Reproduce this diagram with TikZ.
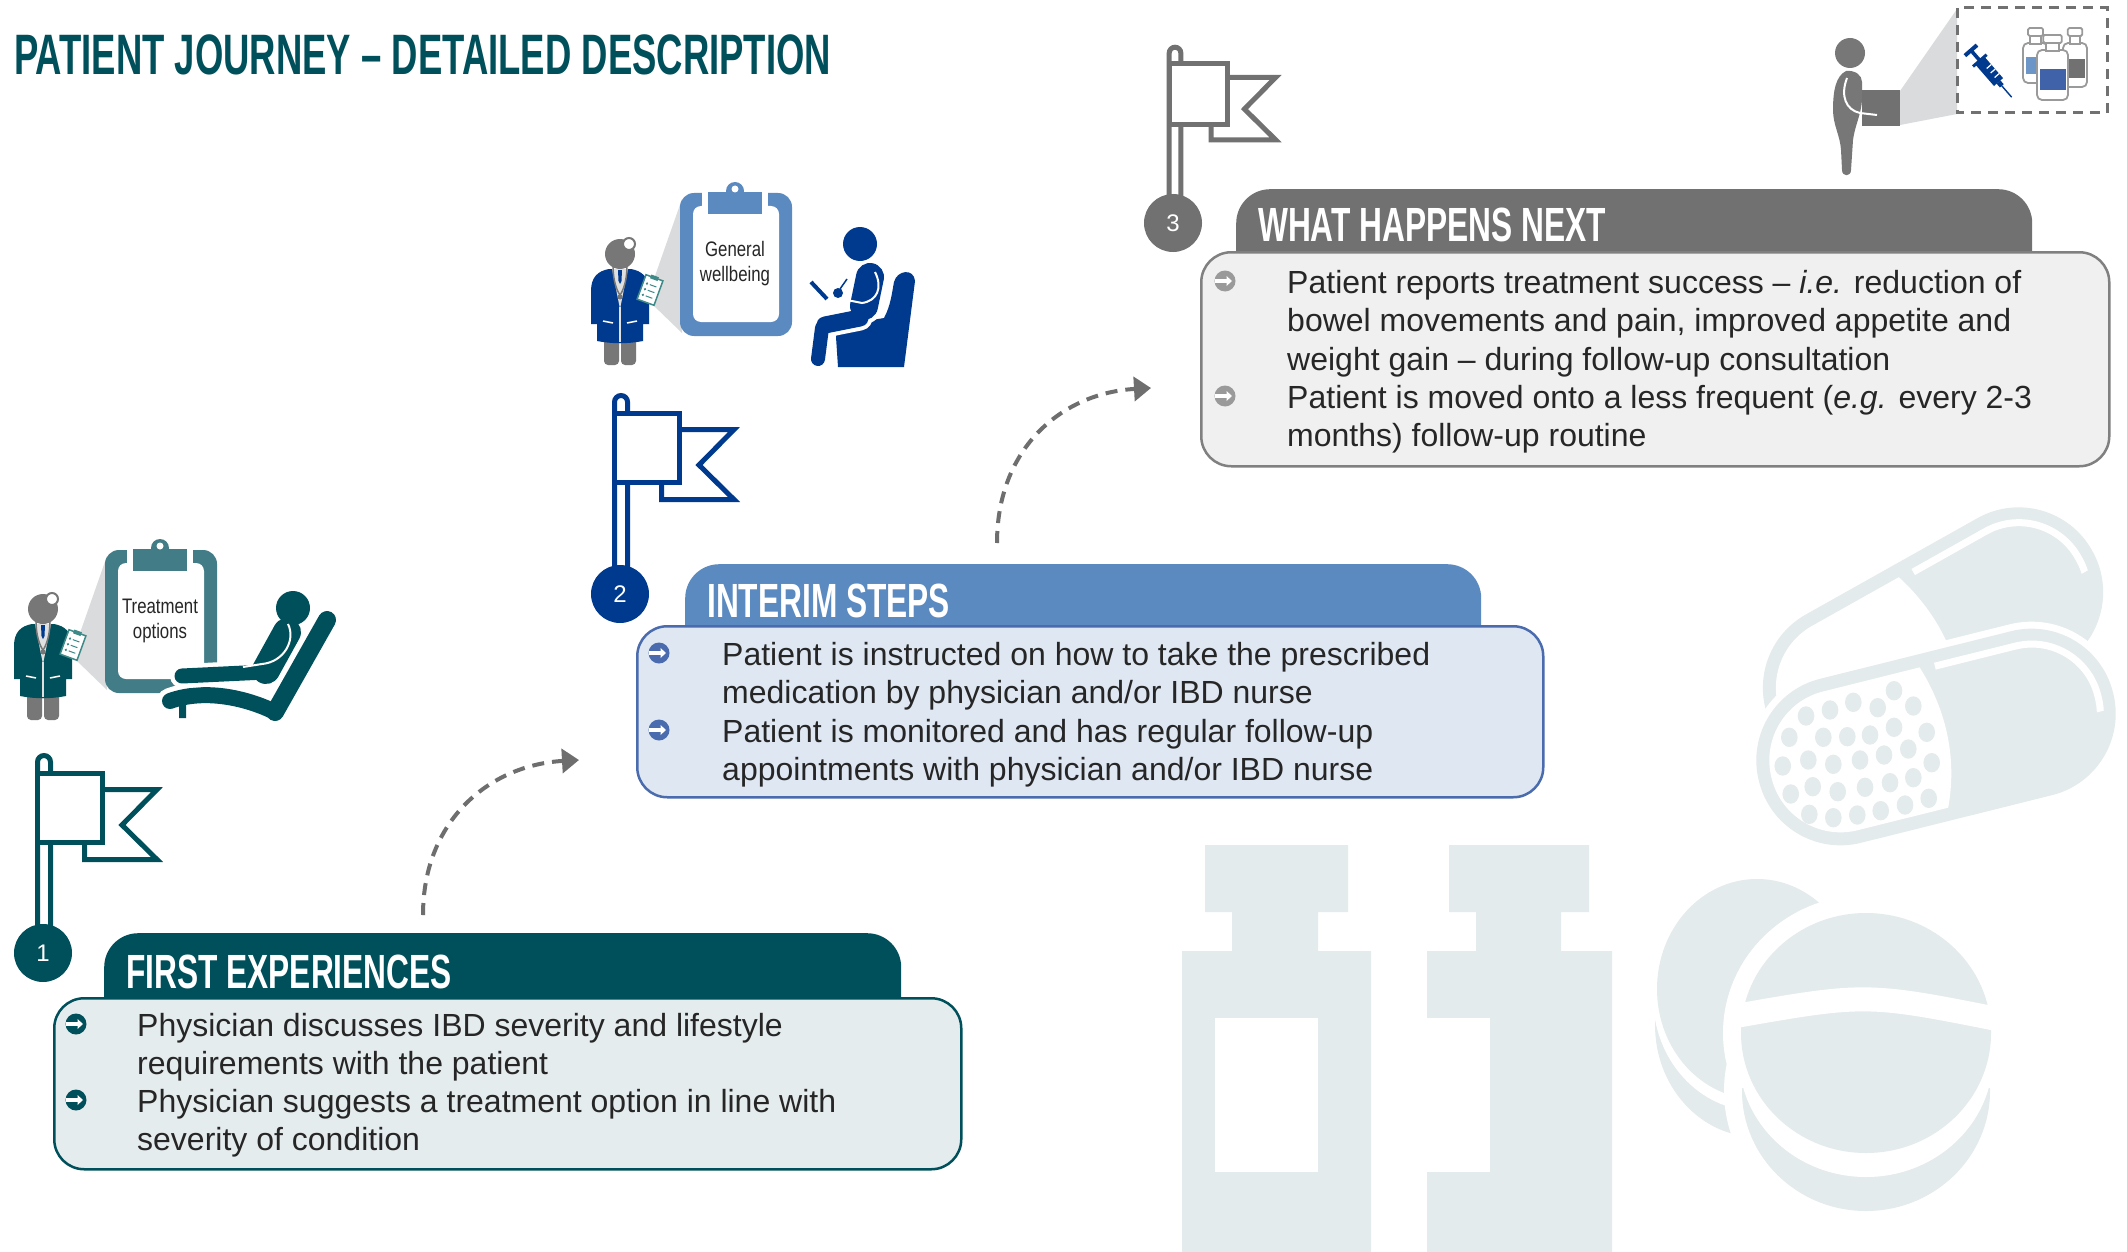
\documentclass[tikz,border=0pt]{standalone}
\usepackage{fontspec}
\setmainfont{Liberation Sans}
\newfontfamily\titlefont[FakeStretch=0.64]{Liberation Sans}
\newfontfamily\headfont[FakeStretch=0.66]{Liberation Sans}
\newfontfamily\narrowfont[FakeStretch=0.8]{Liberation Sans}
\usetikzlibrary{arrows.meta}

\definecolor{tealdark}{HTML}{00505B}
\definecolor{tealmid}{HTML}{427D87}
\definecolor{tealbox}{HTML}{E5ECEE}
\definecolor{cliphand}{HTML}{3E8A88}
\definecolor{navy}{HTML}{003A8F}
\definecolor{bluemid}{HTML}{5B8AC1}
\definecolor{blueline}{HTML}{4A6CAE}
\definecolor{bluebox}{HTML}{DEE7F2}
\definecolor{greydark}{HTML}{717171}
\definecolor{greyline}{HTML}{808080}
\definecolor{greybox}{HTML}{F0F0F0}
\definecolor{greybullet}{HTML}{9A9A9A}
\definecolor{beam}{HTML}{DADBDC}
\definecolor{ghost}{HTML}{E4EBED}
\definecolor{bodytext}{HTML}{262626}
\definecolor{arrowgrey}{HTML}{6E6E6E}
\definecolor{figgrey}{HTML}{777777}
\definecolor{vialblue}{HTML}{3F62A8}
\definecolor{viallight}{HTML}{6C95C8}

\tikzset{
  bodyline/.style={anchor=base west, inner sep=0pt, text=bodytext,
    font=\fontsize{32}{38}\selectfont},
  % round bullet with a white arrow running into it from the left
  bulletmark/.style={circle, minimum size=21pt, inner sep=0pt, fill=#1,
    path picture={
      \fill[white] ([yshift=2.2pt]path picture bounding box.west) rectangle
                   ([xshift=2pt,yshift=-2.2pt]path picture bounding box.center);
      \fill[white] ([xshift=1.5pt,yshift=5pt]path picture bounding box.center) --
                   ([xshift=7pt]path picture bounding box.center) --
                   ([xshift=1.5pt,yshift=-5pt]path picture bounding box.center) -- cycle;}},
  headtext/.style={anchor=base west, inner sep=0pt, text=white,
    font=\headfont\bfseries\fontsize{48}{48}\selectfont},
  headtab/.style={rectangle, rounded corners=34pt, inner sep=0pt, anchor=north west},
  bodybox/.style={rectangle, rounded corners=30pt, line width=2.5pt, inner sep=0pt, anchor=north west},
  stepnum/.style={circle, minimum size=58pt, inner sep=0pt, text=white,
    font=\fontsize{24}{24}\selectfont},
  cliptext/.style={align=center, inner sep=0pt, text=bodytext,
    font=\narrowfont\fontsize{21}{25}\selectfont},
  flagline/.style={draw=#1, fill=white, line width=5pt},
  journeyarrow/.style={draw=arrowgrey, line width=4pt, dash pattern=on 12pt off 8pt,
    -{Triangle[length=17pt,width=24pt]}},
}

% flag on a pole: origin of the pole top-left, colour, pole length, scale
\newcommand\flagmark[4]{%
  \begin{scope}[shift={#1}, scale=#4]
    \path[flagline=#2] (2.5,#3) -- (2.5,9) arc[start angle=180, end angle=360, radius=6.5] -- (15.5,#3);
    \path[flagline=#2] (49.5,36.5) -- (122,36.5) -- (87,72) -- (122,106.5) -- (49.5,106.5) -- cycle;
    \path[flagline=#2] (2.5,20.5) rectangle (67.5,89.5);
  \end{scope}}

% physician with a small clipboard in hand
\newcommand\doctorfig[1]{%
  \fill[figgrey, rounded corners=4] (27,684) rectangle (42,720);
  \fill[figgrey, rounded corners=4] (44,684) rectangle (59,720);
  \fill[#1] (20,696) -- (20,679) -- (14,679) -- (14,646)
     .. controls (14,632) and (21,626) .. (32,624) -- (54,624)
     .. controls (65,626) and (72,632) .. (72,646) -- (72,679) -- (66,679) -- (66,696)
     .. controls (50,699) and (36,699) .. cycle;
  \fill[white!88!black] (35,624) -- (43,664) -- (51,624) -- cycle;
  \draw[white!88!black, line width=1.5pt] (43,662) -- (43,697);
  \fill[navy] (41,625) -- (45,625) -- (44.5,636) -- (43,639) -- (41.5,636) -- cycle;
  \draw[white, line width=1.5pt] (26,676) -- (36,678) (50,678) -- (60,676);
  \draw[figgrey, line width=1.5pt] (36,621) .. controls (36,636) and (40,646) .. (43,650);
  \draw[figgrey, line width=1.5pt] (50,621) .. controls (50,636) and (46,646) .. (43,650);
  \fill[figgrey] (43,652) circle (2.5);
  \fill[figgrey] (43,609) circle (15);
  \draw[figgrey, line width=2pt, fill=white] (52,599) circle (6);
  \begin{scope}[shift={(73,645)}, rotate=-20]
    \draw[draw=cliphand, fill=white, line width=1.5pt] (-9,-13) rectangle (9,13);
    \fill[cliphand] (-4,-15) rectangle (4,-11);
    \foreach \yy in {-5,1,7} {
      \fill[cliphand] (-5,\yy) circle (1.3);
      \draw[cliphand, line width=1pt] (-2,\yy) -- (5,\yy);
    }
  \end{scope}}

% large clipboard with its caption: colour, node name, caption
\newcommand\clipboardfig[3]{%
  \fill[beam] (80,633) -- (107,556) -- (107,690) -- (77,661) -- cycle;
  \fill[#1, rounded corners=14] (105,550) rectangle (217,693);
  \fill[white, rounded corners=8] (118,563) rectangle (204,679);
  \fill[white] (127,545) rectangle (193,566);
  \fill[#1] (133,549) rectangle (187,571);
  \fill[#1] (160,548) circle (9);
  \fill[white] (160,546) circle (3.5);
  \node[cliptext] (#2) at (160,621) {#3};}

\begin{document}
\begin{tikzpicture}[x=1pt, y=-1pt]
\useasboundingbox (0,0) rectangle (2127,1252);
\fill[white] (0,0) rectangle (2127,1252);

% ---------------- faint medicine silhouettes ----------------
\fill[ghost] (1205,845) rectangle (1348,912) (1232,911) rectangle (1318,952) (1182,951) rectangle (1371,1252);
\fill[white] (1215,1018) rectangle (1318,1172);
\fill[ghost] (1449,845) rectangle (1589,912) (1476,911) rectangle (1561,952) (1427,951) rectangle (1612,1252);
\fill[white] (1427,1018) rectangle (1490,1172);

% back tablet
\begin{scope}
  \clip (1600,1012) rectangle (1820,1220);
  \fill[ghost] (1757,1025) ellipse [x radius=102, y radius=112];
  \fill[white] (1757,997) ellipse [x radius=104, y radius=114];
\end{scope}
\fill[ghost] (1757,989) ellipse [x radius=100, y radius=110];
% front tablet with white halo
\fill[white] (1866,1033) ellipse [x radius=143, y radius=138];
\fill[white] (1866,1091) ellipse [x radius=142, y radius=138];
\begin{scope}
  \clip (1700,1088) rectangle (2050,1252);
  \fill[ghost] (1866,1091) ellipse [x radius=124, y radius=120];
  \fill[white] (1866,1057) ellipse [x radius=127, y radius=120];
\end{scope}
\fill[ghost] (1866,1033) ellipse [x radius=125, y radius=120];
\draw[white, line width=24pt] (1730,1017) .. controls (1866,993) .. (2002,1020);

% upper capsule
\begin{scope}[shift={(1933,640)}, rotate=29.3]
  \fill[ghost, rounded corners=84] (-182.5,-84.5) rectangle (182.5,84.5);
  \begin{scope}
    \clip (-200,-100) -- (-4,-100) -- (-4,-85) .. controls (18,-30) and (18,30) .. (-12,85) -- (-12,100) -- (-200,100) -- cycle;
    \fill[white, rounded corners=71] (-169.5,-71.5) rectangle (169.5,71.5);
  \end{scope}
  \begin{scope}
    \clip (16,-100) rectangle (200,15);
    \draw[white, line width=7pt, rounded corners=68] (-167,-69) rectangle (167,69);
  \end{scope}
\end{scope}
% lower capsule
\begin{scope}[shift={(1936,737)}, rotate=14]
  \fill[white, rounded corners=91] (-189.5,-91.5) rectangle (189.5,91.5);
  \fill[ghost, rounded corners=84] (-182.5,-84.5) rectangle (182.5,84.5);
  \begin{scope}
    \clip (-200,-100) -- (-4,-100) -- (-4,-85) .. controls (18,-30) and (18,30) .. (-12,85) -- (-12,100) -- (-200,100) -- cycle;
    \fill[white, rounded corners=71] (-169.5,-71.5) rectangle (169.5,71.5);
  \end{scope}
  \begin{scope}
    \clip (16,-100) rectangle (200,15);
    \draw[white, line width=7pt, rounded corners=68] (-167,-69) rectangle (167,69);
  \end{scope}
\end{scope}
\foreach \px/\py in {1894/690.7, 1913.3/706, 1877.7/707.7, 1853.3/702.3, 1830/710, 1806/716,
  1926.7/732.3, 1894/727.3, 1870/735, 1847.3/736.7, 1823.3/737.3, 1789.3/737.3,
  1908.3/749, 1884/755, 1860/760, 1833.3/764.3, 1808.3/760, 1782.7/766,
  1931.7/762.7, 1913.3/777.7, 1890/782.7, 1865/787.3, 1837.7/791.7, 1812.7/786.7, 1790.7/794,
  1928.7/798.3, 1905/805, 1880.7/810.7, 1857.3/815, 1833.3/817.7, 1809.3/814.3}
  \fill[ghost] (\px,\py) ellipse [x radius=8.3, y radius=9.7];

% ---------------- title ----------------
\node[anchor=base west, inner sep=0pt, text=tealdark,
  font=\titlefont\bfseries\fontsize{57}{57}\selectfont] (title) at (14,75)
  {PATIENT JOURNEY – DETAILED DESCRIPTION};

% ---------------- step 1: first experiences ----------------
\node[headtab, fill=tealdark, minimum width=797pt, minimum height=107pt] (fe-tab) at (104,933) {};
\node[bodybox, draw=tealdark, fill=tealbox, minimum width=907pt, minimum height=171pt] (fe-body) at (53,997) {};
\node[headtext] (fe-head) at (126,988) {FIRST EXPERIENCES};
\node[bulletmark=tealdark] (fe-b1) at (76,1024) {};
\node[bulletmark=tealdark] (fe-b2) at (76,1100) {};
\node[bodyline] (fe-l1) at (137,1036) {Physician discusses IBD severity and lifestyle};
\node[bodyline] (fe-l2) at (137,1074) {requirements with the patient};
\node[bodyline] (fe-l3) at (137,1112) {Physician suggests a treatment option in line with};
\node[bodyline] (fe-l4) at (137,1150) {severity of condition};

% ---------------- step 2: interim steps ----------------
\node[headtab, fill=bluemid, minimum width=796pt, minimum height=100pt] (is-tab) at (685,564) {};
\node[bodybox, draw=blueline, fill=bluebox, minimum width=906pt, minimum height=171pt] (is-body) at (636,625) {};
\node[headtext] (is-head) at (707,617) {INTERIM STEPS};
\node[bulletmark=blueline] (is-b1) at (659,653) {};
\node[bulletmark=blueline] (is-b2) at (659,730) {};
\node[bodyline] (is-l1) at (722,665) {Patient is instructed on how to take the prescribed};
\node[bodyline] (is-l2) at (722,703) {medication by physician and/or IBD nurse};
\node[bodyline] (is-l3) at (722,742) {Patient is monitored and has regular follow-up};
\node[bodyline] (is-l4) at (722,780) {appointments with physician and/or IBD nurse};

% ---------------- step 3: what happens next ----------------
\node[headtab, fill=greydark, minimum width=796pt, minimum height=100pt] (wn-tab) at (1236,189) {};
\node[bodybox, draw=greyline, fill=greybox, minimum width=908pt, minimum height=214pt] (wn-body) at (1200,251) {};
\node[headtext] (wn-head) at (1258,241) {WHAT HAPPENS NEXT};
\node[bulletmark=greybullet] (wn-b1) at (1225,281) {};
\node[bulletmark=greybullet] (wn-b2) at (1225,396) {};
\node[bodyline] (wn-l1) at (1287,293) {Patient reports treatment success – \textit{i.e.} reduction of};
\node[bodyline] (wn-l2) at (1287,331) {bowel movements and pain, improved appetite and};
\node[bodyline] (wn-l3) at (1287,370) {weight gain – during follow-up consultation};
\node[bodyline] (wn-l4) at (1287,408) {Patient is moved onto a less frequent (\textit{e.g.} every 2-3};
\node[bodyline] (wn-l5) at (1287,446) {months) follow-up routine};

% ---------------- dashed progress arrows ----------------
\coordinate (a1s) at (423,915);
\coordinate (a1e) at (579,760);
\coordinate (a2s) at (997,543);
\coordinate (a2e) at (1151,388);
\draw[journeyarrow] (a1s) .. controls +(0,-95) and +(-89,5) .. (a1e);
\draw[journeyarrow] (a2s) .. controls +(0,-95) and +(-89,5) .. (a2e);

% ---------------- flags and step numbers ----------------
\flagmark{(35,753)}{tealdark}{180}{1}
\flagmark{(612,393)}{navy}{180}{1}
\flagmark{(1167,45)}{greydark}{172}{0.89}
\node[stepnum, fill=tealdark] (s1) at (43,953) {1};
\node[stepnum, fill=navy] (s2) at (620,594) {2};
\node[stepnum, fill=greydark] (s3) at (1173,223) {3};

% ---------------- step 1 icons ----------------
\clipboardfig{tealmid}{clip1}{Treatment\\options}
\doctorfig{tealdark}
% reclining patient on a chaise
\draw[white, line width=26pt, line cap=round] (170,701) .. controls (200,690) and (240,695) .. (275,712);
\draw[tealdark, line width=18pt, line cap=round] (327,620) -- (275,712);
\draw[tealdark, line width=16pt, line cap=round] (170,701) .. controls (200,690) and (240,695) .. (275,712);
\fill[tealdark] (179,705) rectangle (186,718) (271,709) rectangle (278,718);
\draw[white, line width=24pt, line cap=round] (182,676) -- (265,672);
\draw[white, line width=36pt, line cap=round] (287,632) -- (266,670);
\draw[tealdark, line width=15pt, line cap=round] (182,676) -- (265,672);
\draw[tealdark, line width=28pt, line cap=round] (287,632) -- (266,670);
\fill[tealdark] (293,608) circle (17);
\draw[white, line width=2pt] (288,624) .. controls (296,640) and (284,662) .. (262,664) -- (243,667);

% ---------------- step 2 icons ----------------
\begin{scope}[shift={(575,-357)}]
  \clipboardfig{bluemid}{clip2}{General\\wellbeing}
\end{scope}
\begin{scope}[shift={(577,-355)}]
  \doctorfig{navy}
\end{scope}
% seated patient in an armchair
\fill[navy] (838,367) -- (836,337) .. controls (837,326) and (846,322) .. (860,322) -- (884,318)
   .. controls (891,305) and (892,292) .. (894,282) .. controls (897,270) and (914,268) .. (915,281)
   -- (904,367) -- cycle;
\draw[white, line width=36pt, line cap=round] (870,277) -- (864,306);
\draw[white, line width=25pt, line cap=round] (860,318) -- (825,325);
\draw[white, line width=22pt, line cap=round] (822,328) -- (818,359);
\draw[navy, line width=28pt, line cap=round] (870,277) -- (864,306);
\draw[navy, line width=17pt, line cap=round] (860,318) -- (825,325);
\draw[navy, line width=14pt, line cap=round] (822,328) -- (818,359);
\fill[navy] (860,244) circle (17);
\draw[white, line width=2pt] (875,272) .. controls (883,288) and (877,301) .. (862,303) -- (842,299);
\fill[navy] (838,293) circle (5);
\draw[navy, line width=4pt] (811,282) -- (827,299);
\draw[navy, line width=1.5pt] (840,289) -- (847,279);

% ---------------- step 3 icons ----------------
\fill[beam] (1900,91) -- (1957,9) -- (1957,114) -- (1900,125) -- cycle;
\draw[greydark, line width=3pt, dash pattern=on 10pt off 7pt] (1957,8) rectangle (2107,113);
\fill[figgrey] (1846,71) .. controls (1836,76) and (1833,90) .. (1833,110)
   .. controls (1833,125) and (1840,135) .. (1841,150) -- (1842,170)
   .. controls (1842,177) and (1851,177) .. (1851,170) -- (1853,140)
   .. controls (1855,125) and (1861,115) .. (1862,100) -- (1862,82)
   .. controls (1862,75) and (1855,70) .. cycle;
\fill[figgrey] (1850,53) circle (15);
\fill[greydark] (1862,90) rectangle (1900,126);
\draw[white, line width=2pt] (1847,78) .. controls (1840,96) and (1846,110) .. (1860,113) -- (1877,115);
% syringe
\begin{scope}[shift={(1988,70)}, rotate=-49]
  \fill[navy] (-12,-6) rectangle (16,6);
  \draw[white, line width=1.2pt] (-2,-6) -- (-2,0) (4,-6) -- (4,0) (10,-6) -- (10,0);
  \fill[navy] (-14,-9) rectangle (-11,9);
  \fill[navy] (-26,-1.8) rectangle (-13,1.8);
  \fill[navy] (-28,-8) rectangle (-24,8);
  \fill[navy] (16,-2.5) rectangle (21,2.5);
  \draw[navy, line width=1.4pt] (21,0) -- (36,0);
\end{scope}
% vials
\foreach \vx/\vy/\vw/\vh/\vc in {2023/28/25/55/viallight, 2063/28/24/59/greydark, 2037/35/31/65/vialblue} {
  \draw[greyline!80, line width=1.8pt, fill=white, rounded corners=5]
     (\vx,\vy+15) rectangle (\vx+\vw,\vy+\vh);
  \draw[greyline!80, line width=1.8pt, fill=white]
     (\vx+0.28*\vw,\vy+8) rectangle (\vx+0.72*\vw,\vy+16);
  \draw[greyline!80, line width=1.8pt, fill=white, rounded corners=1.5]
     (\vx+0.2*\vw,\vy) rectangle (\vx+0.8*\vw,\vy+8);
  \fill[\vc] (\vx+2.5,\vy+0.52*\vh) rectangle (\vx+\vw-2.5,\vy+0.84*\vh);
}
\end{tikzpicture}
\end{document}
